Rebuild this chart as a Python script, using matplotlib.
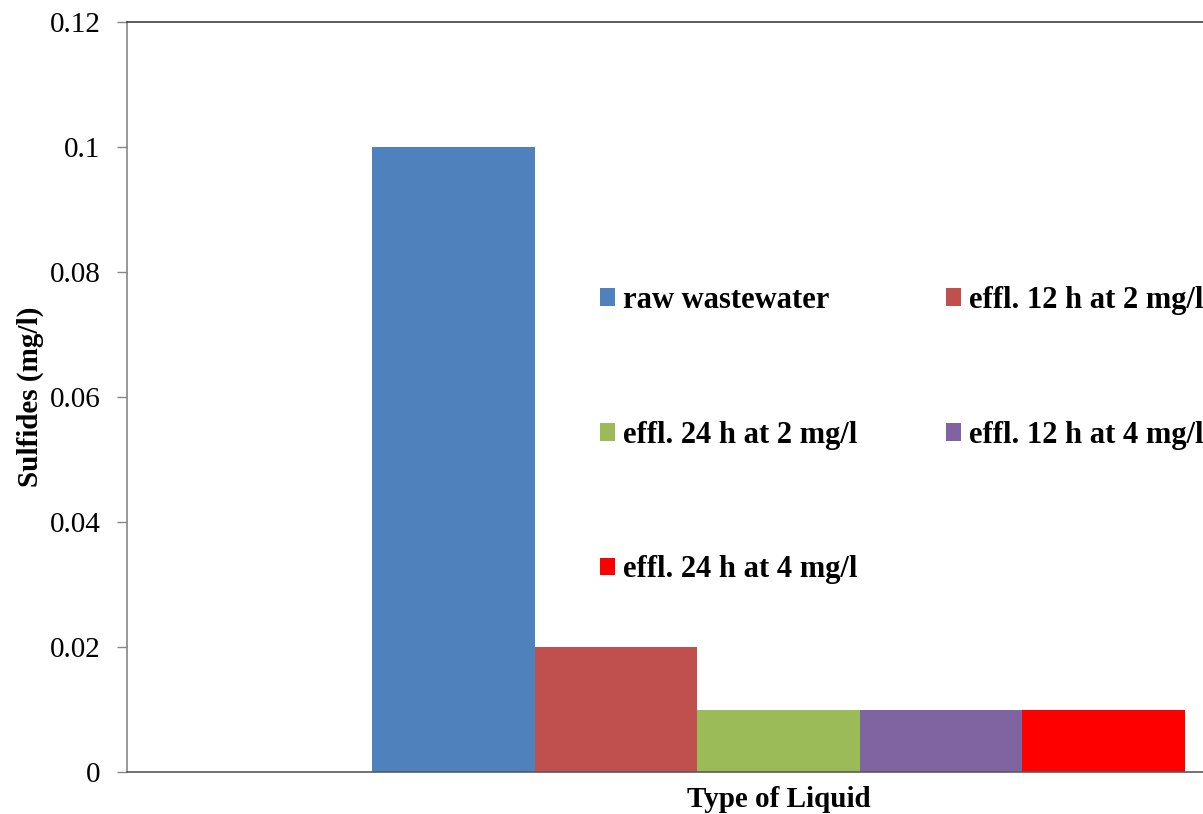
import matplotlib.pyplot as plt
import numpy as np
from matplotlib.patches import Patch

plt.rcParams['font.family'] = ['Liberation Serif', 'DejaVu Serif']

# Sulfide concentrations per liquid type
series = ['raw wastewater', 'effl. 12 h at 2 mg/l', 'effl. 24 h at 2 mg/l',
          'effl. 12 h at 4 mg/l', 'effl. 24 h at 4 mg/l']
sulfides = [0.10, 0.02, 0.01, 0.01, 0.01]
colors = ['#4F81BD', '#C0504D', '#9BBB59', '#8064A2', '#FF0000']
yticks = [0, 0.02, 0.04, 0.06, 0.08, 0.1, 0.12]
ytick_labels = ['0', '0.02', '0.04', '0.06', '0.08', '0.1', '0.12']

W, H = 1203, 814
fig = plt.figure(figsize=(W / 100, H / 100), dpi=100)
# plot area runs past the right edge of the figure
ax = fig.add_axes([127 / W, 42 / H, 1303 / W, 750 / H])

bar_w = 0.1248
offsets = (np.arange(len(series)) - (len(series) - 1) / 2) * bar_w
for off, val, col in zip(offsets, sulfides, colors):
    ax.bar(off, val, width=bar_w, color=col, edgecolor='none')

ax.set_xlim(-0.5, 0.5)
ax.set_ylim(0, 0.12)
ax.set_yticks(yticks)
ax.set_yticklabels(ytick_labels, fontsize=21)
ax.set_xticks([])
ax.tick_params(axis='y', direction='out', length=7, width=1, color='#868686', pad=12)

ax.spines['left'].set_color('#868686')
ax.spines['bottom'].set_color('#595959')
ax.spines['top'].set_color('#404040')
ax.spines['right'].set_visible(False)
for s in ['left', 'bottom', 'top']:
    ax.spines[s].set_linewidth(1.2)

ax.set_ylabel('Sulfides (mg/l)', fontsize=21, fontweight='bold', labelpad=4)
ax.set_xlabel('Type of Liquid', fontsize=21, fontweight='bold', labelpad=10)

# legend entries filled row by row in two columns
order = [0, 2, 4, 1, 3]
handles = [Patch(facecolor=colors[i], edgecolor='none') for i in order]
labels = [series[i] for i in order]
fig.legend(handles, labels, loc='upper left', bbox_to_anchor=(600 / W, 1 - 286 / H),
           ncol=2, frameon=False, prop={'weight': 'bold', 'size': 22},
           handlelength=0.5, handleheight=0.5, handletextpad=0.26,
           columnspacing=2.9, labelspacing=3.46, borderpad=0, borderaxespad=0)

fig.savefig('out.png', dpi=100)
